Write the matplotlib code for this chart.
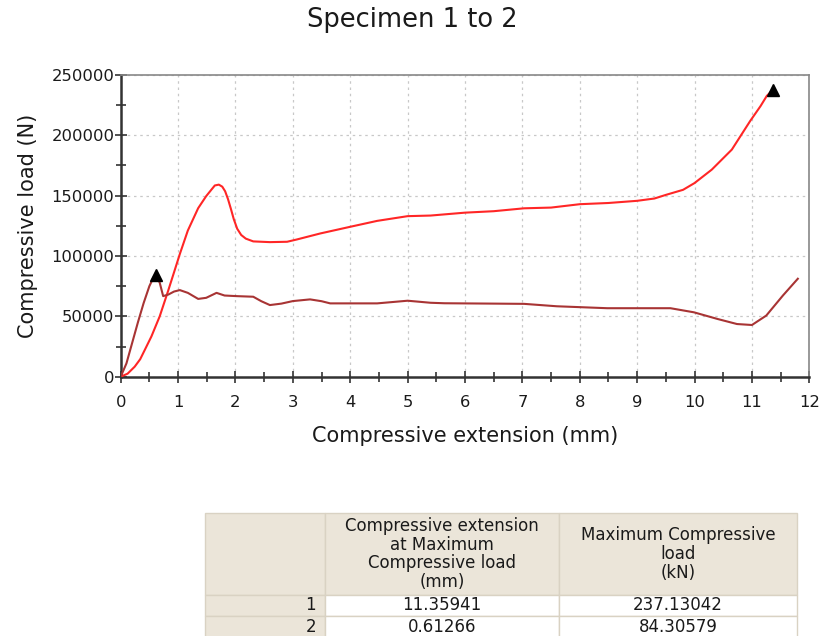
import matplotlib
matplotlib.use("Agg")
import matplotlib.pyplot as plt
from matplotlib.ticker import MultipleLocator

# specimen 1 (bright red)
ext_1 = [0, 0.12, 0.244, 0.34, 0.42, 0.535, 0.68, 0.826, 0.94, 1.03, 1.17, 1.35, 1.49,
         1.57, 1.64, 1.71, 1.77, 1.82, 1.87, 1.92, 1.97, 2.03, 2.1, 2.18, 2.31, 2.6,
         2.9, 3.07, 3.48, 4.0, 4.47, 5.0, 5.4, 6.0, 6.5, 7.03, 7.5, 8.0, 8.5, 9.0,
         9.3, 9.5, 9.8, 10.0, 10.3, 10.65, 10.97, 11.15, 11.26, 11.35941]
load_1 = [0, 2500, 8300, 14500, 22200, 33300, 50000, 71000, 88000, 101500, 121000,
          139500, 149500, 154200, 158300, 159000, 157300, 153500, 147000, 139000,
          130500, 122500, 117300, 114300, 112000, 111400, 111700, 113600, 118600,
          124100, 129000, 132900, 133400, 135800, 137000, 139400, 140000, 142800,
          143800, 145600, 147500, 150500, 154700, 160300, 171400, 188000, 211700,
          224000, 232500, 237130.42]

# specimen 2 (dark red)
ext_2 = [0, 0.1, 0.2, 0.3, 0.4, 0.5, 0.57, 0.61266, 0.68, 0.74, 0.83, 0.93, 1.03,
         1.17, 1.35, 1.49, 1.67, 1.81, 2.02, 2.31, 2.45, 2.6, 2.8, 3.0, 3.3, 3.5,
         3.65, 4.47, 5.0, 5.4, 5.64, 6.5, 7.03, 7.6, 8.48, 9.58, 9.99, 10.4, 10.74,
         11.0, 11.25, 11.54, 11.8]
load_2 = [0, 11000, 28000, 45000, 61000, 75000, 82000, 84305.79, 77800, 66700, 68000,
          70500, 71700, 69400, 64400, 65300, 69400, 67200, 66700, 66200, 62500, 59300,
          60500, 62600, 64000, 62500, 60700, 60700, 62900, 61200, 60800, 60500, 60300,
          58300, 56700, 56700, 53300, 47800, 43600, 42800, 50600, 67200, 81100]

# results table
row_labels = ["1", "2"]
col_labels = ["Compressive extension\nat Maximum\nCompressive load\n(mm)",
              "Maximum Compressive\nload\n(kN)"]
max_ext = ["11.35941", "0.61266"]
max_load = ["237.13042", "84.30579"]

fig = plt.figure(figsize=(8.25, 6.36), dpi=100)
ax = fig.add_axes([120.7 / 825, 1 - 376.7 / 636, 688.6 / 825, 302 / 636])

ax.plot(ext_1, load_1, color="#FF2626", lw=1.5, zorder=3)
ax.plot(ext_2, load_2, color="#A83434", lw=1.5, zorder=3)
ax.plot(ext_1[-1], load_1[-1], marker="^", color="black", ms=8, zorder=4)
ax.plot(ext_2[7], load_2[7], marker="^", color="black", ms=8, zorder=4)

ax.set_xlim(0, 12)
ax.set_ylim(0, 250000)
ax.xaxis.set_major_locator(MultipleLocator(1))
ax.xaxis.set_minor_locator(MultipleLocator(0.5))
ax.yaxis.set_major_locator(MultipleLocator(50000))
ax.yaxis.set_minor_locator(MultipleLocator(25000))
ax.tick_params(which="major", direction="inout", length=9, width=1.2, labelsize=11.8,
               colors="#333333", labelcolor="#1a1a1a")
ax.tick_params(which="minor", direction="inout", length=7, width=1.2, colors="#333333")
ax.tick_params(axis="y", which="major", pad=0)
ax.tick_params(axis="x", which="major", pad=9)
ax.tick_params(top=False, right=False, which="both")
ax.grid(True, which="major", ls=(0, (2, 3)), color="#C8C8C8", lw=0.9)
for side in ["left", "bottom"]:
    ax.spines[side].set_linewidth(1.8)
    ax.spines[side].set_color("#333333")
for side in ["top", "right"]:
    ax.spines[side].set_linewidth(1.2)
    ax.spines[side].set_color("#888888")

ax.set_xlabel("Compressive extension (mm)", fontsize=15, labelpad=11, color="#1a1a1a")
ax.set_ylabel("Compressive load (N)", fontsize=15, labelpad=10, color="#1a1a1a")
fig.text(0.5, 1 - 20 / 636, "Specimen 1 to 2", ha="center", va="center",
         fontsize=18.5, color="#1a1a1a")

# table below the chart
tax = fig.add_axes([205 / 825, 0, 592 / 825, 123 / 636])
tax.axis("off")
cells = [[row_labels[i], max_ext[i], max_load[i]] for i in range(2)]
header = [""] + col_labels
tbl = tax.table(cellText=[header] + cells, bbox=[0, -0.01, 1, 1.01],
                colWidths=[120, 234, 238], cellLoc="center")
tbl.auto_set_font_size(False)
tbl.set_fontsize(12)
heights = [80.7, 21, 21]
for (r, c), cell in tbl.get_celld().items():
    cell.set_height(heights[r])
    cell.set_edgecolor("#D9D2C3")
    cell.set_linewidth(1.0)
    cell.get_text().set_color("#1a1a1a")
    if r == 0:
        cell.get_text().set_linespacing(1.05)
    if r == 0 or c == 0:
        cell.set_facecolor("#EBE5D9")
    else:
        cell.set_facecolor("white")
    if c == 0 and r > 0:
        cell.get_text().set_ha("right")
        cell.PAD = 0.075

fig.savefig("out.png", dpi=100)
